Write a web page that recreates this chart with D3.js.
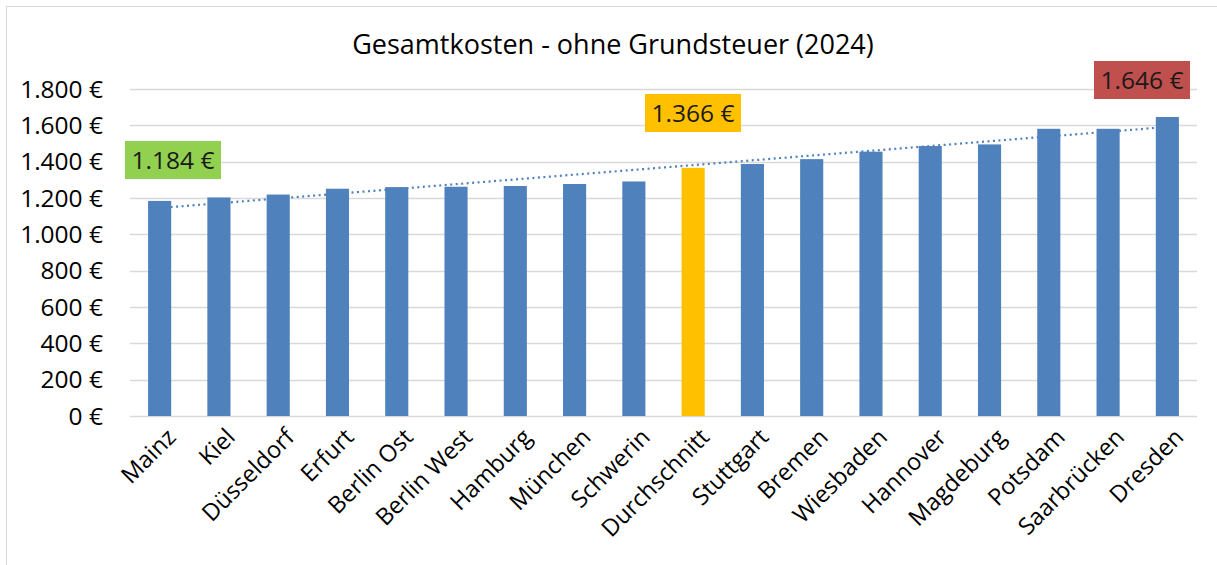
<!DOCTYPE html>
<html>
<head>
<meta charset="utf-8">
<script src="https://cdn.jsdelivr.net/npm/d3@7"></script>
<style>
  body { margin: 0; background: #fff; }
  text { font-family: "Open Sans", sans-serif; fill: #000; }
</style>
</head>
<body>
<script>
var cities = ["Mainz", "Kiel", "Düsseldorf", "Erfurt", "Berlin Ost", "Berlin West", "Hamburg",
    "München", "Schwerin", "Durchschnitt", "Stuttgart", "Bremen", "Wiesbaden", "Hannover",
    "Magdeburg", "Potsdam", "Saarbrücken", "Dresden"];
var costs = [1184, 1203, 1219, 1251, 1260, 1262, 1266, 1277, 1291, 1366, 1387, 1414, 1455,
    1486, 1495, 1581, 1581, 1646];
var yTicks = [0, 200, 400, 600, 800, 1000, 1200, 1400, 1600, 1800];
// highlighted values with their box colour
var callouts = [
    { city: "Mainz", value: 1184, color: "#92d050" },
    { city: "Durchschnitt", value: 1366, color: "#ffc000" },
    { city: "Dresden", value: 1646, color: "#c0504d" }
];

var width = 1217, height = 565;
var margin = { top: 89, right: 20, bottom: 149, left: 130 };

var svg = d3.select("body").append("svg")
    .attr("width", width)
    .attr("height", height);

// chart frame
svg.append("rect")
    .attr("x", 6.5).attr("y", 6.5)
    .attr("width", 1400).attr("height", 800)
    .attr("fill", "none")
    .attr("stroke", "#d9d9d9");

var x = d3.scaleBand()
    .domain(cities)
    .range([margin.left, 1197])
    .paddingInner(0.61)
    .paddingOuter(0.305);

var y = d3.scaleLinear()
    .domain([0, 1800])
    .range([416, 89]);

var fmt = function(v) { return d3.format(",")(v).replace(/,/g, ".") + " €"; };

// gridlines
svg.append("g").selectAll("line")
    .data(yTicks)
    .enter().append("line")
    .attr("x1", margin.left).attr("x2", 1197)
    .attr("y1", d => Math.round(y(d)) + 0.5)
    .attr("y2", d => Math.round(y(d)) + 0.5)
    .attr("stroke", "#d9d9d9")
    .attr("stroke-width", 1.5);

// y labels
svg.append("g").selectAll("text")
    .data(yTicks)
    .enter().append("text")
    .attr("x", 103)
    .attr("y", d => y(d))
    .attr("dy", "0.36em")
    .attr("text-anchor", "end")
    .style("font-size", "24.5px")
    .text(fmt);

// linear trendline (least squares over category index), drawn behind bars
var n = costs.length;
var idx = d3.range(n);
var mx = d3.mean(idx), my = d3.mean(costs);
var slope = d3.sum(idx, i => (i - mx) * (costs[i] - my)) / d3.sum(idx, i => (i - mx) * (i - mx));
var icpt = my - slope * mx;
var cx = c => x(c) + x.bandwidth() / 2;

svg.append("line")
    .attr("x1", cx(cities[0]))
    .attr("y1", y(icpt))
    .attr("x2", cx(cities[n - 1]))
    .attr("y2", y(icpt + slope * (n - 1)))
    .attr("stroke", "#4f81bd")
    .attr("stroke-width", 2.2)
    .attr("stroke-dasharray", "2 3.5");

// bars
svg.append("g").selectAll("rect")
    .data(cities)
    .enter().append("rect")
    .attr("x", d => x(d))
    .attr("width", x.bandwidth())
    .attr("y", (d, i) => y(costs[i]))
    .attr("height", (d, i) => y(0) - y(costs[i]))
    .attr("fill", d => d === "Durchschnitt" ? "#ffc000" : "#4f81bd");

// x labels
svg.append("g").selectAll("text")
    .data(cities)
    .enter().append("text")
    .attr("transform", d => "translate(" + (cx(d) + 6) + ",427)rotate(-45)")
    .attr("text-anchor", "end")
    .attr("dy", "0.7em")
    .style("font-size", "23.5px")
    .text(d => d);

// callout boxes
var boxPos = {
    "Mainz": { x: 125, y: 141 },
    "Durchschnitt": { x: 645, y: 94 },
    "Dresden": { x: 1094, y: 61 }
};
callouts.forEach(function(c) {
    var p = boxPos[c.city];
    svg.append("rect")
        .attr("x", p.x).attr("y", p.y)
        .attr("width", 96).attr("height", 38)
        .attr("fill", c.color);
    svg.append("text")
        .attr("x", p.x + 48).attr("y", p.y + 19)
        .attr("dy", "0.36em")
        .attr("text-anchor", "middle")
        .style("font-size", "24.5px")
        .style("fill", "#1a1a1a")
        .text(fmt(c.value));
});

// title
svg.append("text")
    .attr("x", 613)
    .attr("y", 54)
    .attr("text-anchor", "middle")
    .style("font-size", "27px")
    .text("Gesamtkosten - ohne Grundsteuer (2024)");
</script>
</body>
</html>
